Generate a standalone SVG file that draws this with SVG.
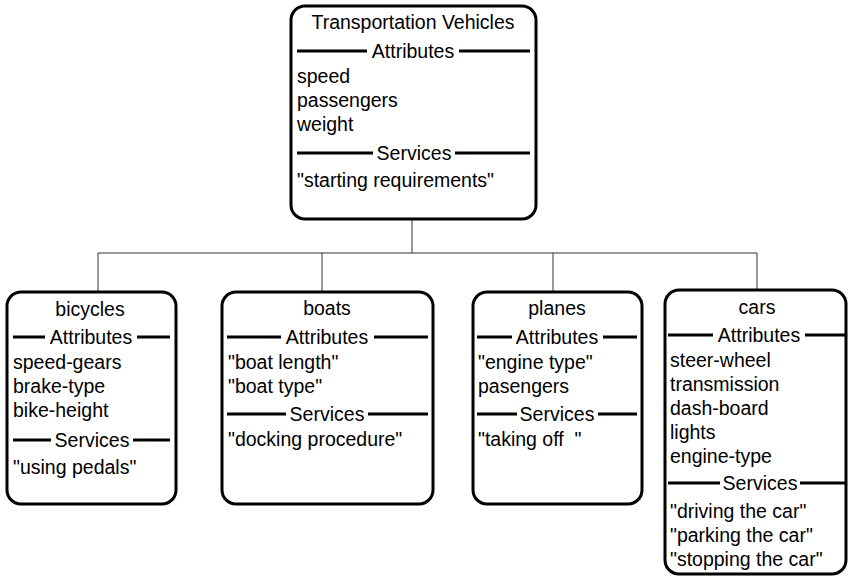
<svg xmlns="http://www.w3.org/2000/svg" width="848" height="576" viewBox="0 0 848 576">
<style>
.box{fill:#fff;stroke:#000;stroke-width:3}
.sep{stroke:#000;stroke-width:3;fill:none}
.conn{stroke:#333;stroke-width:1;fill:none}
text{font-family:"Liberation Sans",Arial,sans-serif;font-size:19.5px;fill:#000}
.c{text-anchor:middle}
</style>
<rect width="848" height="576" fill="#fff"/>
<g id="connectors">
<path class="conn" d="M412,219 V253 M98,253 H757 M98,253 V292 M322,253 V292 M553,253 V292 M757,253 V290"/>
</g>
<g id="transportation-vehicles">
<rect class="box" x="291" y="6" width="245" height="213" rx="14"/>
<text class="c" x="413" y="29">Transportation Vehicles</text>
<path class="sep" d="M297,51 H367 M459,51 H530"/>
<text class="c" x="413" y="58">Attributes</text>
<text x="297" y="83">speed</text>
<text x="297" y="107">passengers</text>
<text x="297" y="131">weight</text>
<path class="sep" d="M297,153 H373 M455,153 H530"/>
<text class="c" x="414" y="160">Services</text>
<text x="297" y="187">"starting requirements"</text>
</g>
<g id="bicycles">
<rect class="box" x="7" y="292" width="169" height="212" rx="14"/>
<text class="c" x="90" y="316">bicycles</text>
<path class="sep" d="M13,337 H45 M137,337 H170"/>
<text class="c" x="91" y="344">Attributes</text>
<text x="13" y="369">speed-gears</text>
<text x="13" y="393">brake-type</text>
<text x="13" y="417">bike-height</text>
<path class="sep" d="M13,440 H51 M133,440 H170"/>
<text class="c" x="92" y="447">Services</text>
<text x="13" y="474">"using pedals"</text>
</g>
<g id="boats">
<rect class="box" x="222" y="292" width="211" height="212" rx="14"/>
<text class="c" x="327" y="315">boats</text>
<path class="sep" d="M227,337 H281 M374,337 H428"/>
<text class="c" x="327" y="344">Attributes</text>
<text x="228" y="369">"boat length"</text>
<text x="228" y="393">"boat type"</text>
<path class="sep" d="M227,414 H286 M368,414 H428"/>
<text class="c" x="327" y="421">Services</text>
<text x="228" y="446">"docking procedure"</text>
</g>
<g id="planes">
<rect class="box" x="473" y="292" width="169" height="212" rx="14"/>
<text class="c" x="557" y="315">planes</text>
<path class="sep" d="M477,337 H512 M603,337 H637"/>
<text class="c" x="557" y="344">Attributes</text>
<text x="478" y="369">"engine type"</text>
<text x="478" y="393">pasengers</text>
<path class="sep" d="M477,414 H517 M598,414 H637"/>
<text class="c" x="557" y="421">Services</text>
<text x="478" y="446" xml:space="preserve">"taking off  "</text>
</g>
<g id="cars">
<rect class="box" x="665" y="290" width="181" height="284" rx="14"/>
<text class="c" x="757" y="314">cars</text>
<path class="sep" d="M668,335 H713 M805,335 H845"/>
<text class="c" x="759" y="342">Attributes</text>
<text x="670" y="367">steer-wheel</text>
<text x="670" y="391">transmission</text>
<text x="670" y="415">dash-board</text>
<text x="670" y="439">lights</text>
<text x="670" y="463">engine-type</text>
<path class="sep" d="M668,483 H720 M800,483 H845"/>
<text class="c" x="760" y="490">Services</text>
<text x="670" y="518">"driving the car"</text>
<text x="670" y="542">"parking the car"</text>
<text x="670" y="566">"stopping the car"</text>
</g>
</svg>
